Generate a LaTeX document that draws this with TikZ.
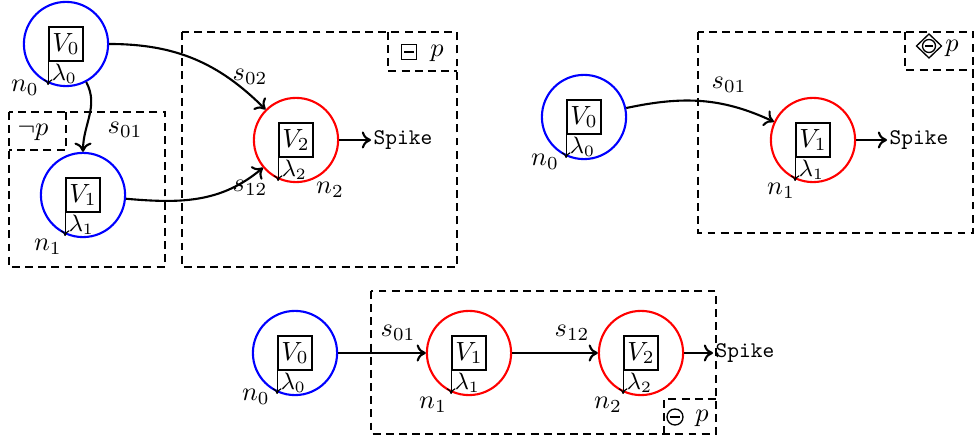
\documentclass[tikz,border=0pt]{standalone}
\usepackage{amssymb}
\usetikzlibrary{arrows.meta}

\tikzset{
  neuron/.style={circle, line width=0.8pt, minimum size=32pt, inner sep=0pt},
  potbox/.style={draw, line width=0.6pt, minimum size=13pt, inner sep=1pt},
  leak/.style={-{To[length=2.2pt,width=3.4pt]}, line width=0.45pt},
  leaklabel/.style={anchor=north west, inner sep=0pt, font=\small},
  syn/.style={-{To[length=3.5pt,width=6.5pt]}, line width=0.8pt},
  region/.style={draw, line width=0.8pt, dash pattern=on 3pt off 2pt},
  tag/.style={inner sep=0pt},
  spikeout/.style={anchor=west, inner sep=1pt, font=\ttfamily, transform shape, scale=0.85},
  glyph/.style={line width=0.5pt},
}

% a neuron: circle, potential box V_i and leak arrow lambda_i
\newcommand\neuronat[4]{%
  \node[neuron, draw=#3] (#1) at (#2) {};
  \node[potbox] (#1v) at (#1) {$V_{#4}$};
  \draw[leak] (#1v.south west) -- ++(0,-8.8pt) coordinate (#1l);
  \node[leaklabel] (#1lam) at ([xshift=1.2pt,yshift=-0.8pt]#1v.south west) {$\lambda_{#4}$};
}

\begin{document}
\begin{tikzpicture}[x=0.38pt, y=0.38pt]
\useasboundingbox (0,0) rectangle (974,-442);

% ---------- top left: two-stage network ----------
\draw[region] (9,-112) rectangle (165,-267);
\draw[region] (66,-112) -- (66,-150) -- (9,-150);
\node[tag] (negp) at (33,-132) {$\neg p$};

\draw[region] (182,-32) rectangle (457,-267);
\draw[region] (388,-32) -- (388,-71) -- (457,-71);
\draw[glyph] (401.5,-44.5) rectangle (416.5,-59.5);
\draw[glyph] (404,-52) -- (414,-52);
\node[tag] (boxp) at (437,-53) {$p$};

\neuronat{a0}{66,-44}{blue}{0}
\neuronat{a1}{83,-195}{blue}{1}
\neuronat{a2}{296,-140}{red}{2}

\node[tag] (a0n) at (25,-88) {$n_0$};
\node[tag] (a1n) at (48,-247) {$n_1$};
\node[tag] (a2n) at (330,-190) {$n_2$};

\draw[syn] (a0) to[out=0, in=135] (a2);
\draw[syn] (a0) to[out=-62, in=90] (a1);
\draw[syn] (a1) to[out=-5, in=-140] (a2);

\node[tag] (a02) at (250,-77) {$s_{02}$};
\node[tag] (a01) at (125,-130) {$s_{01}$};
\node[tag] (a12) at (250,-188) {$s_{12}$};

\node[spikeout] (a2s) at (371,-140) {Spike};
\draw[syn] (a2) -- (a2s);

% ---------- top right: single synapse ----------
\draw[region] (698,-32) rectangle (973.5,-233);
\draw[region] (905,-32) -- (905,-70) -- (973.5,-70);
\draw[glyph] (916.5,-46) -- (929,-34) -- (941.5,-46) -- (929,-58) -- cycle;
\draw[glyph] (929,-46) circle (6.5);
\draw[glyph] (925,-46) -- (933,-46);
\node[tag] (diap) at (952,-48) {$p$};

\neuronat{c0}{584,-117}{blue}{0}
\neuronat{c1}{813,-140}{red}{1}

\node[tag] (c0n) at (545,-162) {$n_0$};
\node[tag] (c1n) at (781,-191) {$n_1$};

\draw[syn] (c0) to[out=12, in=155] (c1);
\node[tag] (c01) at (729,-85) {$s_{01}$};

\node[spikeout] (c1s) at (887,-140) {Spike};
\draw[syn] (c1) -- (c1s);

% ---------- bottom: chain of three ----------
\draw[region] (371,-291) rectangle (716,-434);
\draw[region] (664,-434) -- (664,-399) -- (716,-399);
\draw[glyph] (675,-417) circle (8);
\draw[glyph] (670,-417) -- (680,-417);
\node[tag] (circp) at (702,-418) {$p$};

\neuronat{b0}{295,-353}{blue}{0}
\neuronat{b1}{469,-353}{red}{1}
\neuronat{b2}{641,-353}{red}{2}

\node[tag] (b0n) at (256,-397) {$n_0$};
\node[tag] (b1n) at (433,-405) {$n_1$};
\node[tag] (b2n) at (608,-405) {$n_2$};

\draw[syn] (b0) -- (b1);
\draw[syn] (b1) -- (b2);
\node[tag] (b01) at (398,-333) {$s_{01}$};
\node[tag] (b12) at (572,-333) {$s_{12}$};

\node[spikeout] (b2s) at (713,-353) {Spike};
\draw[syn] (b2) -- (b2s);
\end{tikzpicture}
\end{document}
